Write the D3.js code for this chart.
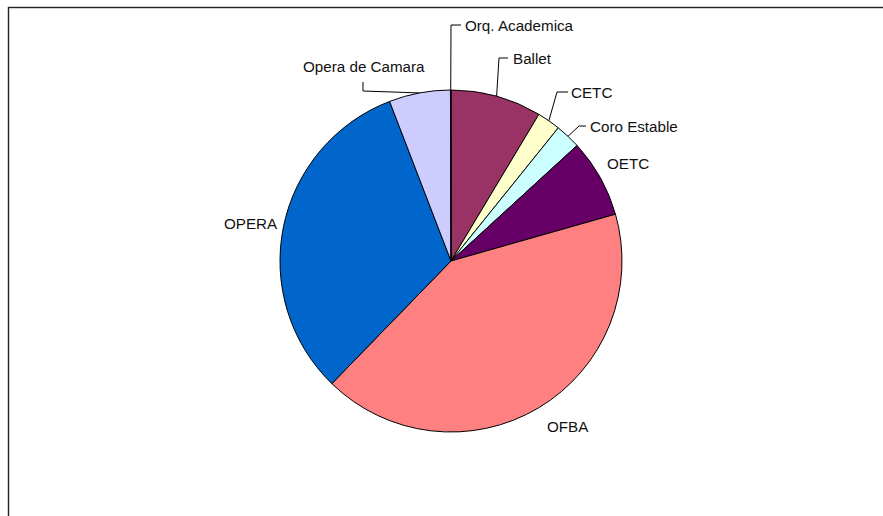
<!DOCTYPE html>
<html>
<head>
<meta charset="utf-8">
<script src="https://cdn.jsdelivr.net/npm/d3@7"></script>
<style>
  body { margin: 0; background: #fff; }
  text { font-family: "Liberation Sans", Arial, sans-serif; font-size: 15.2px; fill: #111; }
</style>
</head>
<body>
<svg id="chart" width="883" height="516"></svg>
<script>
// data (share of total, %)
var categories = ["Ballet", "CETC", "Coro Estable", "OETC", "OFBA", "OPERA", "Opera de Camara", "Orq. Academica"];
var values = [8.6, 2.2, 2.4, 7.4, 41.7, 31.9, 5.8, 0.05];
var colors = ["#993366", "#FFFFCC", "#CCFFFF", "#660066", "#FF8080", "#0066CC", "#CCCCFF", "#FFFFFF"];

var svg = d3.select("#chart"),
    cx = 451,
    cy = 261,
    r = 171;

// chart frame (runs off the right and bottom of the picture)
svg.append("rect")
  .attr("x", 8.5)
  .attr("y", 7.5)
  .attr("width", 1000)
  .attr("height", 1000)
  .attr("fill", "none")
  .attr("stroke", "#222")
  .attr("stroke-width", 1.4);

var data = categories.map(function(c, i) {
  return {name: c, value: values[i], color: colors[i]};
});

var pie = d3.pie()
  .sort(null)
  .value(function(d) { return d.value; });

var arc = d3.arc()
  .innerRadius(0)
  .outerRadius(r);

var g = svg.append("g")
  .attr("transform", "translate(" + cx + "," + cy + ")");

var arcs = pie(data);

g.selectAll("path.slice")
  .data(arcs)
  .enter()
  .append("path")
  .attr("class", "slice")
  .attr("d", arc)
  .attr("fill", function(d) { return d.data.color; })
  .attr("stroke", "#000")
  .attr("stroke-width", 1);

// label placement, relative to the pie centre
// t = text start, e = end of leader line next to the text, k = elbow
var labelPos = {
  "Orq. Academica": {t: [14, -236], k: [0, -236], e: [10, -236]},
  "Ballet": {t: [62, -203], k: [48, -203], e: [57, -203]},
  "CETC": {t: [120, -169], k: [106, -169], e: [117, -169]},
  "Coro Estable": {t: [139, -135], k: [128, -135], e: [135, -135]},
  "OETC": {t: [156, -98]},
  "OFBA": {t: [96, 165]},
  "OPERA": {t: [-227, -38]},
  "Opera de Camara": {t: [-148, -195], k: [-88, -170], e: [-88, -179]}
};

var labels = g.selectAll("g.lab")
  .data(arcs)
  .enter()
  .append("g")
  .attr("class", "lab");

// leader lines from the middle of the slice edge
labels.filter(function(d) { return labelPos[d.data.name].k; })
  .append("path")
  .attr("fill", "none")
  .attr("stroke", "#000")
  .attr("stroke-width", 1)
  .attr("d", function(d) {
    var p = labelPos[d.data.name];
    var mid = (d.startAngle + d.endAngle) / 2;
    var ex = r * Math.sin(mid), ey = -r * Math.cos(mid);
    return d3.line()([[ex, ey], p.k, p.e]);
  });

labels.append("text")
  .attr("x", function(d) { return labelPos[d.data.name].t[0]; })
  .attr("y", function(d) { return labelPos[d.data.name].t[1]; })
  .attr("dominant-baseline", "central")
  .attr("text-anchor", "start")
  .text(function(d) { return d.data.name; });
</script>
</body>
</html>
